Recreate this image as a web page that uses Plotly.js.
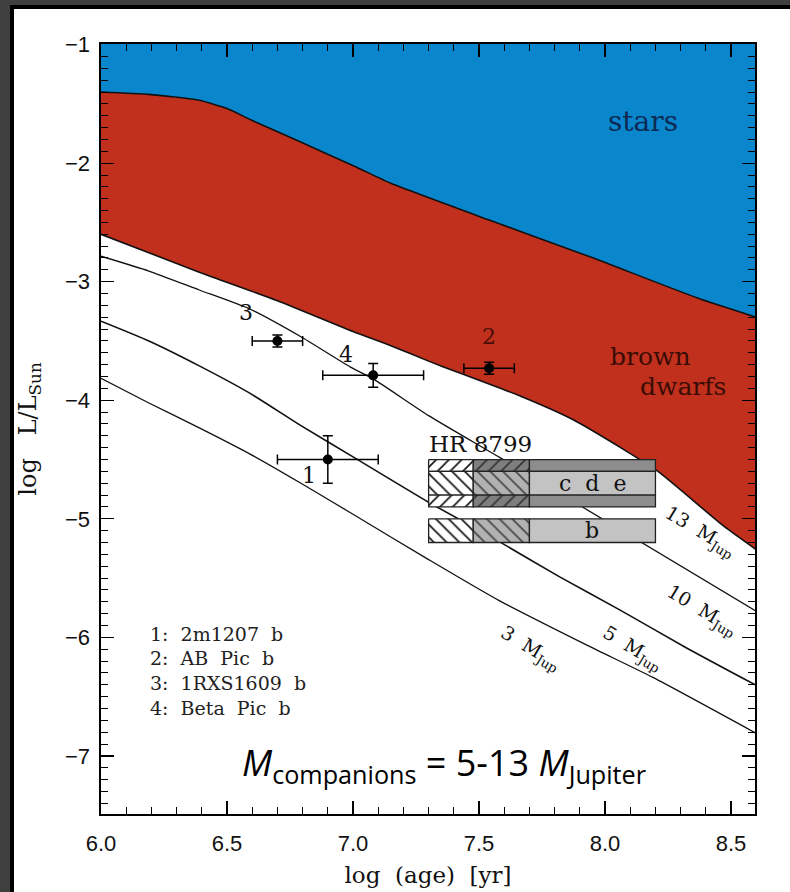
<!DOCTYPE html>
<html>
<head>
<meta charset="utf-8">
<script src="https://cdn.plot.ly/plotly-3.0.1.min.js"></script>
<style>
  html, body { margin: 0; padding: 0; background: #3f3f3f; width: 790px; height: 892px; overflow: hidden; }
  #mat { position: absolute; left: 10px; top: 5px; width: 780px; height: 887px; background: #000; }
  #chart { position: absolute; left: 14px; top: 9px; width: 776px; height: 883px; background: #fff; }
</style>
</head>
<body>
<div id="mat"></div>
<div id="chart"></div>
<script>
// Boundary between stars and brown dwarfs (log age, log L/Lsun)
const starEdgeAge = [6.0, 6.19, 6.39, 6.5, 6.6, 6.79, 7.01, 7.15, 7.54, 7.94, 8.37, 8.6];
const starEdgeLum = [-1.40, -1.42, -1.47, -1.54, -1.64, -1.82, -2.03, -2.17, -2.48, -2.79, -3.14, -3.30];

// Evolutionary tracks (mass in Jupiter masses)
const track13Age = [6.0, 6.39, 6.7, 7.0, 7.15, 7.3, 7.41, 7.67, 7.87, 8.07, 8.21, 8.47, 8.6];
const track13Lum = [-2.60, -2.92, -3.16, -3.42, -3.54, -3.67, -3.76, -3.97, -4.16, -4.41, -4.60, -5.06, -5.26];
const track10Age = [6.0, 6.19, 6.39, 6.59, 6.79, 6.99, 7.08, 7.3, 7.58, 7.91, 8.6];
const track10Lum = [-2.785, -2.91, -3.07, -3.23, -3.46, -3.72, -3.82, -4.13, -4.48, -4.90, -5.78];
const track5Age = [6.0, 6.19, 6.39, 6.59, 6.79, 7.01, 7.3, 7.57, 7.82, 8.06, 8.32, 8.6];
const track5Lum = [-3.333, -3.50, -3.71, -3.94, -4.21, -4.49, -4.86, -5.18, -5.49, -5.77, -6.085, -6.405];
const track3Age = [6.0, 6.19, 6.39, 6.59, 6.79, 6.99, 7.3, 7.58, 7.93, 8.19, 8.6];
const track3Lum = [-3.815, -4.023, -4.233, -4.452, -4.696, -4.949, -5.344, -5.69, -6.068, -6.338, -6.81];
const trackMasses = ['13', '10', '5', '3'];

// Directly imaged companions
const compIds = ['1', '2', '3', '4'];
const compNames = ['2m1207 b', 'AB Pic b', '1RXS1609 b', 'Beta Pic b'];
const compAge = [6.9, 7.54, 6.7, 7.08];
const compAgeErr = [0.2, 0.1, 0.1, 0.2];
const compLum = [-4.5, -3.73, -3.5, -3.79];
const compLumErr = [0.2, 0.05, 0.05, 0.1];

// HR 8799 age ranges (edges) and luminosity bands
const hrAgeEdges = [7.3, 7.477, 7.7, 8.2];
const hrCdeLum = [-4.5, -4.6, -4.8, -4.9];
const hrBLum = [-5.0, -5.2];

const BLUE = '#0a86cd';
const RED = '#c0301c';
const serif = 'DejaVu Serif, Liberation Serif, serif';

const traces = [];

// stars region: everything above the stellar/substellar boundary
traces.push({
  x: starEdgeAge, y: starEdgeLum, type: 'scatter', mode: 'lines',
  line: { width: 0, shape: 'spline', smoothing: 0.5 },
  fill: 'tozeroy', fillcolor: BLUE, hoverinfo: 'skip'
});
// brown dwarf band: between the 13 MJup track and the stellar boundary
traces.push({
  x: track13Age, y: track13Lum, type: 'scatter', mode: 'lines',
  line: { width: 0, shape: 'spline', smoothing: 0.6 }, hoverinfo: 'skip'
});
traces.push({
  x: starEdgeAge, y: starEdgeLum, type: 'scatter', mode: 'lines',
  line: { width: 0, shape: 'spline', smoothing: 0.5 },
  fill: 'tonexty', fillcolor: RED, hoverinfo: 'skip'
});

// outlines and tracks
const lineSets = [
  [starEdgeAge, starEdgeLum, 1.6, 0.5],
  [track13Age, track13Lum, 1.6, 0.6],
  [track10Age, track10Lum, 1.3, 0.6],
  [track5Age, track5Lum, 1.6, 0.6],
  [track3Age, track3Lum, 1.3, 0.6]
];
lineSets.forEach(([xs, ys, w, s]) => {
  traces.push({
    x: xs, y: ys, type: 'scatter', mode: 'lines',
    line: { color: '#111', width: w, shape: 'spline', smoothing: s },
    hoverinfo: 'skip'
  });
});

// HR 8799 boxes
function box(x0, x1, y0, y1, style) {
  const t = {
    x: [x0, x1, x1, x0, x0], y: [y0, y0, y1, y1, y0],
    type: 'scatter', mode: 'lines', fill: 'toself',
    fillcolor: style.bg, line: { color: '#222', width: 1.3 }, hoverinfo: 'skip'
  };
  if (style.shape) {
    t.fillpattern = { shape: style.shape, bgcolor: style.bg, fgcolor: style.fg, size: 9, solidity: 0.18 };
  }
  traces.push(t);
}
const outerStyles = [
  { bg: '#ffffff', fg: '#111', shape: '/' },
  { bg: '#7e7e7e', fg: '#333', shape: '/' },
  { bg: '#8d8d8d' }
];
const innerStyles = [
  { bg: '#ffffff', fg: '#111', shape: '\\' },
  { bg: '#b2b2b2', fg: '#444', shape: '\\' },
  { bg: '#c3c3c3' }
];
for (let i = 0; i < 3; i++) {
  const a0 = hrAgeEdges[i], a1 = hrAgeEdges[i + 1];
  box(a0, a1, hrCdeLum[0], hrCdeLum[1], outerStyles[i]);
  box(a0, a1, hrCdeLum[1], hrCdeLum[2], innerStyles[i]);
  box(a0, a1, hrCdeLum[2], hrCdeLum[3], outerStyles[i]);
  box(a0, a1, hrBLum[0], hrBLum[1], innerStyles[i]);
}

// companions with error bars
traces.push({
  x: compAge, y: compLum, type: 'scatter', mode: 'markers',
  marker: { color: '#000', size: 10 },
  error_x: { type: 'data', array: compAgeErr, color: '#000', thickness: 1.5, width: 5 },
  error_y: { type: 'data', array: compLumErr, color: '#000', thickness: 1.5, width: 5 },
  hoverinfo: 'skip'
});

const annotations = [];
// point numbers
const idShift = [[-19, -16], [0, 32], [-31, 28], [-27, 21]];
compIds.forEach((id, i) => {
  annotations.push({
    x: compAge[i], y: compLum[i], text: id, showarrow: false,
    xshift: idShift[i][0], yshift: idShift[i][1],
    font: { family: serif, size: 22, color: id === '2' ? '#4a0e08' : '#111' }
  });
});
// key for the numbers
compNames.forEach((n, i) => {
  annotations.push({
    x: 6.186, y: -5.968 - i * 0.21, xanchor: 'left', showarrow: false,
    text: compIds[i] + ':\u00a0\u00a0' + n.replace(/ /g, '\u00a0\u00a0'),
    font: { family: serif, size: 19, color: '#222' }
  });
});
// region labels
annotations.push({ x: 8.149, y: -1.649, text: 'stars', showarrow: false,
  font: { family: serif, size: 28, color: '#0c2a55' } });
annotations.push({ x: 8.181, y: -3.63, text: 'brown', showarrow: false,
  font: { family: serif, size: 25, color: '#3a0c06' } });
annotations.push({ x: 8.308, y: -3.88, text: 'dwarfs', showarrow: false,
  font: { family: serif, size: 25, color: '#3a0c06' } });
// HR 8799 labels
annotations.push({ x: hrAgeEdges[0], y: -4.37, xanchor: 'left', xshift: -2, text: 'HR\u00a08799', showarrow: false,
  font: { family: serif, size: 23, color: '#111' } });
annotations.push({ x: (hrAgeEdges[2] + hrAgeEdges[3]) / 2, y: (hrCdeLum[1] + hrCdeLum[2]) / 2,
  text: 'c\u00a0\u00a0d\u00a0\u00a0e', showarrow: false, font: { family: serif, size: 22, color: '#111' } });
annotations.push({ x: (hrAgeEdges[2] + hrAgeEdges[3]) / 2, y: (hrBLum[0] + hrBLum[1]) / 2,
  text: 'b', showarrow: false, font: { family: serif, size: 22, color: '#111' } });
// track labels
const trackLabelPos = [[8.375, -5.11], [8.383, -5.773], [8.11, -6.09], [7.705, -6.09]];
trackMasses.forEach((m, i) => {
  annotations.push({
    x: trackLabelPos[i][0], y: trackLabelPos[i][1], showarrow: false, textangle: 31,
    text: m + '\u00a0\u00a0M<sub>Jup</sub>', font: { family: serif, size: 19, color: '#111' }
  });
});
// summary line
annotations.push({
  x: 7.36, y: -7.07, showarrow: false,
  text: '<i>M</i><sub>companions</sub> = 5-13 <i>M</i><sub>Jupiter</sub>',
  font: { family: 'Open Sans, Noto Sans, sans-serif', size: 36, color: '#000' }
});

const axisCommon = {
  tickmode: 'linear',
  ticks: 'inside', ticklen: 13, tickwidth: 1.3, tickcolor: '#000',
  mirror: 'allticks', showline: true, linecolor: '#000', linewidth: 1.6,
  showgrid: false, zeroline: false, layer: 'above traces',
  tickfont: { family: 'Liberation Sans, Arial, sans-serif', size: 22, color: '#111' }
};

const layout = {
  width: 776, height: 883,
  margin: { l: 87, r: 35, t: 35, b: 78 },
  paper_bgcolor: '#fff', plot_bgcolor: '#fff',
  showlegend: false,
  xaxis: Object.assign({}, axisCommon, {
    range: [6.0, 8.595], tick0: 6, dtick: 0.5, tickformat: '.1f',
    ticklabelstandoff: 9,
    minor: { tick0: 6, dtick: 0.1, ticks: 'inside', ticklen: 7, tickwidth: 1, tickcolor: '#000', showgrid: false },
    title: { text: 'log\u00a0\u00a0(age)\u00a0\u00a0[yr]', font: { family: serif, size: 23, color: '#111' }, standoff: 12 }
  }),
  yaxis: Object.assign({}, axisCommon, {
    range: [-7.49, -0.995], tick0: -1, dtick: 1,
    ticklabelstandoff: 5,
    minor: { tick0: -1, dtick: 0.1, ticks: 'inside', ticklen: 7, tickwidth: 1, tickcolor: '#000', showgrid: false },
    title: { text: 'log\u00a0\u00a0\u00a0L/L<sub>Sun</sub>', font: { family: serif, size: 24, color: '#111' }, standoff: 22 }
  }),
  annotations: annotations
};

Plotly.newPlot('chart', traces, layout, { staticPlot: true, displayModeBar: false });
</script>
</body>
</html>
